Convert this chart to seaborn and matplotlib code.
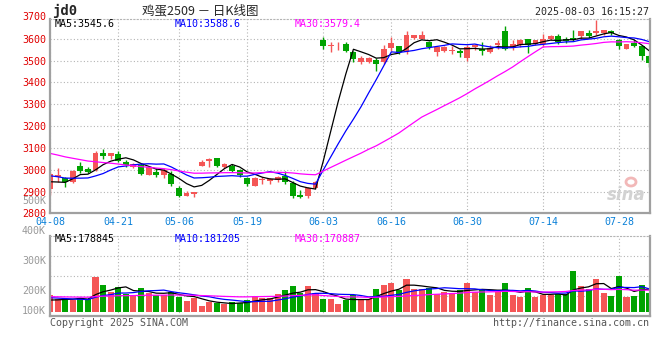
import matplotlib
matplotlib.use("Agg")
import matplotlib.pyplot as plt
import numpy as np
import pandas as pd
import seaborn as sns
from matplotlib.patches import Ellipse


# trading days shown (Labour Day and Dragon Boat holidays removed)
HOLIDAYS = ["2025-05-01", "2025-05-02", "2025-05-05", "2025-06-02"]
days = pd.bdate_range("2025-04-08", "2025-08-01")
days = days[~days.isin(pd.to_datetime(HOLIDAYS))]
trade_dates = [d.strftime("%m-%d") for d in days]

tick_labels = ["04-08", "04-21", "05-06", "05-19", "06-03",
               "06-16", "06-30", "07-14", "07-28"]

open_ = [2915, 2971, 2963, 2948, 3019, 3006, 3001, 3077, 3065, 3074,
         3036, 3013, 3024, 2980, 2994, 2979, 2983, 2921, 2885, 2892,
         3021, 3044, 3056, 3016, 3021, 3001, 2966, 2930, 2958, 2950,
         2956, 2976, 2941, 2888, 2885, 2918, 3594, 3566, 3565, 3576,
         3541, 3495, 3495, 3504, 3492, 3557, 3565, 3541, 3604, 3598,
         3586, 3541, 3545, 3545, 3545, 3512, 3562, 3554, 3539, 3570,
         3633, 3559, 3570, 3597, 3574, 3574, 3597, 3610, 3597, 3603,
         3610, 3627, 3623, 3627, 3633, 3592, 3554, 3580, 3565, 3520]
high = [2994, 3009, 2971, 3001, 3039, 3013, 3088, 3097, 3077, 3087,
        3047, 3032, 3032, 3016, 3009, 3009, 2998, 2929, 2907, 2903,
        3047, 3054, 3056, 3035, 3029, 3004, 2971, 2971, 2971, 2966,
        2976, 2997, 2953, 2910, 2926, 2951, 3606, 3586, 3583, 3583,
        3545, 3522, 3515, 3510, 3571, 3606, 3568, 3636, 3617, 3636,
        3591, 3568, 3568, 3565, 3553, 3570, 3577, 3585, 3570, 3592,
        3656, 3592, 3600, 3600, 3592, 3620, 3615, 3622, 3607, 3641,
        3633, 3641, 3683, 3641, 3638, 3600, 3575, 3592, 3572, 3527]
low = [2888, 2948, 2922, 2944, 2986, 2986, 2999, 3050, 3050, 3036,
       3016, 3009, 2979, 2979, 2968, 2963, 2930, 2877, 2885, 2877,
       3021, 3016, 3016, 3009, 2992, 2971, 2930, 2930, 2938, 2939,
       2947, 2936, 2876, 2873, 2876, 2913, 3553, 3538, 3550, 3538,
       3492, 3485, 3489, 3454, 3485, 3545, 3530, 3530, 3598, 3598,
       3553, 3522, 3538, 3530, 3515, 3499, 3550, 3524, 3532, 3554,
       3550, 3550, 3562, 3532, 3570, 3562, 3595, 3577, 3580, 3589,
       3600, 3604, 3615, 3615, 3615, 3554, 3551, 3562, 3501, 3471]
close = [2983, 2979, 2947, 2997, 2997, 2992, 3077, 3065, 3077, 3042,
         3024, 3029, 2983, 3013, 2979, 3001, 2938, 2885, 2895, 2903,
         3036, 3052, 3019, 3029, 2997, 2979, 2939, 2966, 2961, 2959,
         2971, 2948, 2883, 2880, 2918, 2945, 3568, 3571, 3568, 3542,
         3507, 3510, 3510, 3485, 3553, 3579, 3541, 3616, 3616, 3618,
         3560, 3563, 3560, 3550, 3533, 3563, 3570, 3544, 3559, 3580,
         3554, 3574, 3595, 3570, 3592, 3597, 3610, 3585, 3589, 3592,
         3633, 3610, 3633, 3638, 3623, 3566, 3575, 3568, 3522, 3490]

# volume in thousands of lots
volume_k = [132.5, 98.3, 98.3, 93.1, 111.5, 98.3, 277.4, 211.5, 158.9, 198.4,
            137.8, 132.5, 187.8, 145.7, 132.5, 132.5, 156.2, 119.4, 87.8, 106.2,
            45.7, 74.6, 66.7, 58.8, 79.9, 66.7, 93.1, 127.3, 106.2, 111.5,
            143.1, 172.0, 203.6, 145.7, 203.6, 151.0, 98.3, 98.3, 61.5, 93.1,
            132.5, 98.3, 98.3, 179.9, 211.5, 230.0, 172.0, 258.9, 179.9, 179.9,
            190.5, 137.8, 158.9, 145.7, 172.0, 230.0, 158.9, 179.9, 132.5, 153.6,
            230.0, 132.5, 119.4, 185.2, 119.4, 132.5, 132.5, 137.8, 137.8, 324.8,
            206.3, 179.9, 258.9, 145.7, 127.3, 285.3, 119.4, 127.3, 211.5, 151.0]

# the 29 sessions before 04-08, only feed the moving averages
prior_close = [3205, 3198, 3190, 3185, 3180, 3176, 3172, 3168, 3160, 3156,
               3120, 3110, 3098, 3090, 3082, 3075, 3066, 3058, 3045, 3030,
               3020, 3010, 3002, 2995, 2983, 2985, 2956, 2915, 2901]
prior_volume_k = [118, 126, 121, 130, 115, 124, 128, 119, 122, 131,
                  117, 125, 120, 127, 123, 116, 129, 122, 124, 123,
                  126, 138, 129, 133, 124, 92, 80, 85, 75]

price_ma_labels = ["MA5:3545.6", "MA10:3588.6", "MA30:3579.4"]
volume_ma_labels = ["MA5:178845", "MA10:181205", "MA30:170887"]
price_labels = [2800, 2900, 3000, 3100, 3200, 3300, 3400, 3500, 3600, 3700]
volume_labels = ["100K", "200K", "300K", "400K", "500K"]

MA_WINDOWS = [5, 10, 30]
MA_COLORS = ["#000000", "#0000ff", "#ff00ff"]
RED = "#f45656"
GREEN = "#00a300"
GRID = "#b4b4b4"
BORDER = "#a0a0a0"
W, H = 660, 360


def px_axes(fig, left, top, right, bottom):
    return fig.add_axes([left / W, 1 - bottom / H,
                         (right - left) / W, (bottom - top) / H])


def fig_text(fig, x, y, s, **kw):
    fig.text(x / W, 1 - y / H, s, va="center", **kw)


def style_panel(ax):
    ax.set_axisbelow(True)
    ax.grid(True, color=GRID, linestyle=(0, (1, 2)), linewidth=0.8)
    for side in ("left", "bottom", "right"):
        ax.spines[side].set_color(BORDER)
        ax.spines[side].set_linewidth(1.6)
    ax.spines["top"].set_color(GRID)
    ax.spines["top"].set_linestyle((0, (1, 2)))
    ax.spines["top"].set_linewidth(0.8)
    ax.set_xlabel("")
    ax.set_ylabel("")


def main() -> None:
    sns.set_style("white")
    plt.rcParams["font.family"] = ["DejaVu Sans Mono", "Noto Sans CJK SC"]
    plt.rcParams["font.size"] = 7.2

    df = pd.DataFrame({"open": open_, "high": high, "low": low,
                       "close": close, "volume": np.array(volume_k) * 1000})
    df["x"] = np.arange(len(df))
    df["dir"] = np.where(df["close"] >= df["open"], "up", "down")
    colors = np.where(df["dir"] == "up", RED, GREEN)

    all_close = pd.Series(prior_close + close)
    all_vol = pd.Series(prior_volume_k + volume_k) * 1000
    n_prior = len(prior_close)

    ticks = [trade_dates.index(t) for t in tick_labels]

    fig = plt.figure(figsize=(6.6, 3.6), dpi=100)
    ax = px_axes(fig, 50, 19, 650, 212.7)
    axv = px_axes(fig, 50, 235.7, 650, 315.7)

    # --- price panel: candles + moving averages
    ax.vlines(df["x"], df["low"], df["high"], colors=colors, linewidth=1)
    body = (df["close"] - df["open"]).abs().clip(lower=3)
    ax.bar(df["x"], body, bottom=df[["open", "close"]].min(axis=1),
           width=0.78, color=colors, linewidth=0)
    for n, c in zip(MA_WINDOWS, MA_COLORS):
        ma = all_close.rolling(n).mean().iloc[n_prior:].to_numpy()
        sns.lineplot(x=df["x"], y=ma, color=c, linewidth=0.9, ax=ax)

    style_panel(ax)
    ax.set_xlim(0, 79.1)
    ax.set_ylim(2807, 3689)
    ax.set_yticks(price_labels[1:-1], labels=[str(v) for v in price_labels[1:-1]])
    ax.set_xticks(ticks, labels=tick_labels)
    ax.tick_params(axis="y", length=0, pad=3, labelcolor="#e00000")
    ax.tick_params(axis="x", length=0, pad=3, labelcolor="#0a80d8")
    for v in (price_labels[0], price_labels[-1]):
        ax.text(-0.0065, v, str(v), transform=ax.get_yaxis_transform(),
                ha="right", va="center", color="#e00000", clip_on=False)

    # --- volume panel
    sns.barplot(data=df, x="x", y="volume", hue="dir",
                palette={"up": RED, "down": GREEN}, native_scale=True,
                dodge=False, width=0.8, saturation=1, linewidth=0,
                legend=False, ax=axv)
    for n, c in zip(MA_WINDOWS, MA_COLORS):
        ma = all_vol.rolling(n).mean().iloc[n_prior:].to_numpy()
        sns.lineplot(x=df["x"], y=ma, color=c, linewidth=0.9, ax=axv)

    style_panel(axv)
    axv.set_xlim(0, 79.1)
    lo, hi = -30800, 601200
    axv.set_ylim(lo, hi)
    axv.set_yticks([lo + f * (hi - lo) for f in (0.25, 0.5, 0.75)], labels=[])
    axv.set_xticks(ticks, labels=[])
    axv.tick_params(length=0)

    # --- texts around the panels
    fig_text(fig, 52, 11, "jd0", ha="left", fontsize=10, fontweight="bold")
    fig_text(fig, 200, 11, "鸡蛋2509 － 日K线图", ha="center", fontsize=9,
             family=["Noto Sans CJK SC", "DejaVu Sans"])
    fig_text(fig, 649, 12, "2025-08-03 16:15:27", ha="right")

    for lbl, c, x in zip(price_ma_labels, MA_COLORS, (55, 175, 295)):
        fig_text(fig, x, 24, lbl, ha="left", color=c)
    for lbl, c, x in zip(volume_ma_labels, MA_COLORS, (55, 175, 295)):
        fig_text(fig, x, 238.5, lbl, ha="left", color=c)

    for lbl, y in zip(volume_labels, (310.7, 290.7, 260.7, 230.7, 200.7)):
        fig_text(fig, 46, y, lbl, ha="right", color="#999999")

    fig_text(fig, 50, 323, "Copyright 2025 SINA.COM", ha="left", color="#555555")
    fig_text(fig, 649, 323, "http://finance.sina.com.cn", ha="right", color="#555555")

    # faint sina watermark
    fig_text(fig, 626, 195, "sina", ha="center", fontsize=12, style="italic",
             fontweight="bold", color="#d2d2d2", family="DejaVu Sans")
    fig.add_artist(Ellipse((631 / W, 1 - 182 / H), 10 / W, 8 / H,
                           transform=fig.transFigure, facecolor="none",
                           edgecolor="#f2b8b8", linewidth=2))

    fig.savefig("out.png", dpi=100, facecolor="white")
    plt.close(fig)


if __name__ == "__main__":
    main()
